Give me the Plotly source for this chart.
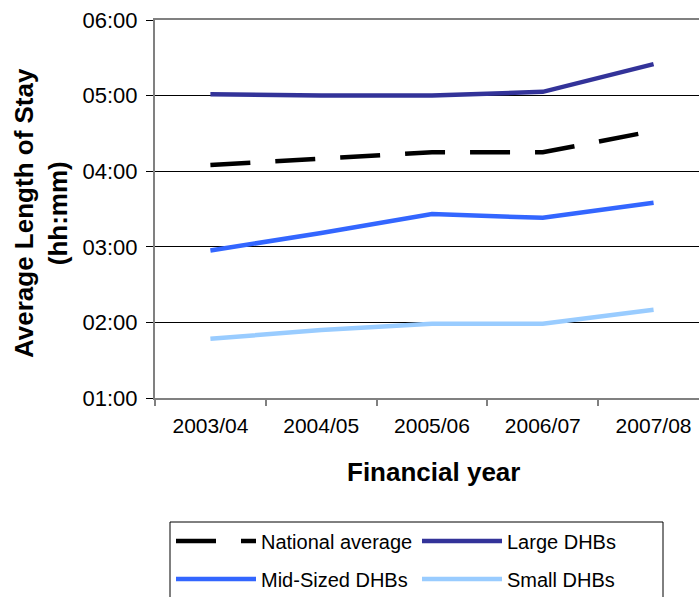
import plotly.graph_objects as go

years = ["2003/04", "2004/05", "2005/06", "2006/07", "2007/08"]
# average length of stay in minutes
national = [245, 250, 255, 255, 272]
large = [301, 300, 300, 303, 325]
mid = [177, 191, 206, 203, 215]
small = [107, 114, 119, 119, 130]

y_ticks = [60, 120, 180, 240, 300, 360]
y_tick_text = ["01:00", "02:00", "03:00", "04:00", "05:00", "06:00"]

FONT = "Liberation Sans, Arial, sans-serif"

# plot area in pixels
L, R, T, B = 155, 699, 20, 398
PW, PH = R - L, B - T


def px_x(x):
    return (x - L) / PW


def px_y(y):
    return (B - y) / PH


fig = go.Figure()
series = [
    ("National average", national, dict(color="black", width=4.5, dash="40px,25px"), "legend"),
    ("Large DHBs", large, dict(color="#333399", width=4.5), "legend"),
    ("Mid-Sized DHBs", mid, dict(color="#3366FF", width=4.5), "legend2"),
    ("Small DHBs", small, dict(color="#99CCFF", width=4.5), "legend2"),
]
for name, vals, line, lg in series:
    fig.add_trace(go.Scatter(x=years, y=vals, mode="lines", name=name, line=line,
                             legend=lg, hoverinfo="x+y+name"))

legend_common = dict(
    orientation="h", xanchor="left", yanchor="middle",
    borderwidth=0, bgcolor="rgba(0,0,0,0)",
    entrywidth=151, entrywidthmode="pixels", itemwidth=80,
    font=dict(family=FONT, size=20, color="black"),
)

fig.update_layout(
    width=699, height=597,
    margin=dict(l=L, r=699 - R, t=T, b=597 - B, autoexpand=False),
    paper_bgcolor="white", plot_bgcolor="white",
    font=dict(family=FONT, size=21, color="black"),
    showlegend=True,
    legend=dict(x=px_x(171), y=px_y(541), **legend_common),
    legend2=dict(x=px_x(171), y=px_y(579), **legend_common),
    xaxis=dict(
        type="category", range=[-0.5, 4.41],
        showline=True, linecolor="#808080", linewidth=2, mirror=True,
        showgrid=False, ticks="outside", tickson="boundaries", ticklen=6,
        tickcolor="#808080", tickwidth=2, ticklabelstandoff=8,
        tickfont=dict(family=FONT, size=21, color="black"),
    ),
    yaxis=dict(
        range=[60, 360], tickvals=y_ticks, ticktext=y_tick_text,
        showline=True, linecolor="#808080", linewidth=2,
        showgrid=True, gridcolor="black", gridwidth=1,
        ticks="outside", ticklen=7, tickcolor="black", tickwidth=1,
        ticklabelstandoff=4,
        tickfont=dict(family=FONT, size=22, color="black"),
        zeroline=False,
    ),
    shapes=[
        dict(type="rect", xref="paper", yref="paper",
             x0=px_x(170), x1=px_x(663), y0=px_y(522), y1=px_y(610),
             line=dict(color="black", width=1), fillcolor="rgba(0,0,0,0)", layer="below"),
    ],
    annotations=[
        dict(text="<b>Financial year</b>", xref="paper", yref="paper",
             x=px_x(433), y=px_y(472), xanchor="center", yanchor="middle",
             showarrow=False, font=dict(family=FONT, size=26, color="black")),
        dict(text="<b>Average Length of Stay<br>(hh:mm)</b>", xref="paper", yref="paper",
             x=px_x(41), y=px_y(213), xanchor="center", yanchor="middle",
             textangle=-90, showarrow=False,
             font=dict(family=FONT, size=26, color="black")),
    ],
)

fig.write_html("out.html")
